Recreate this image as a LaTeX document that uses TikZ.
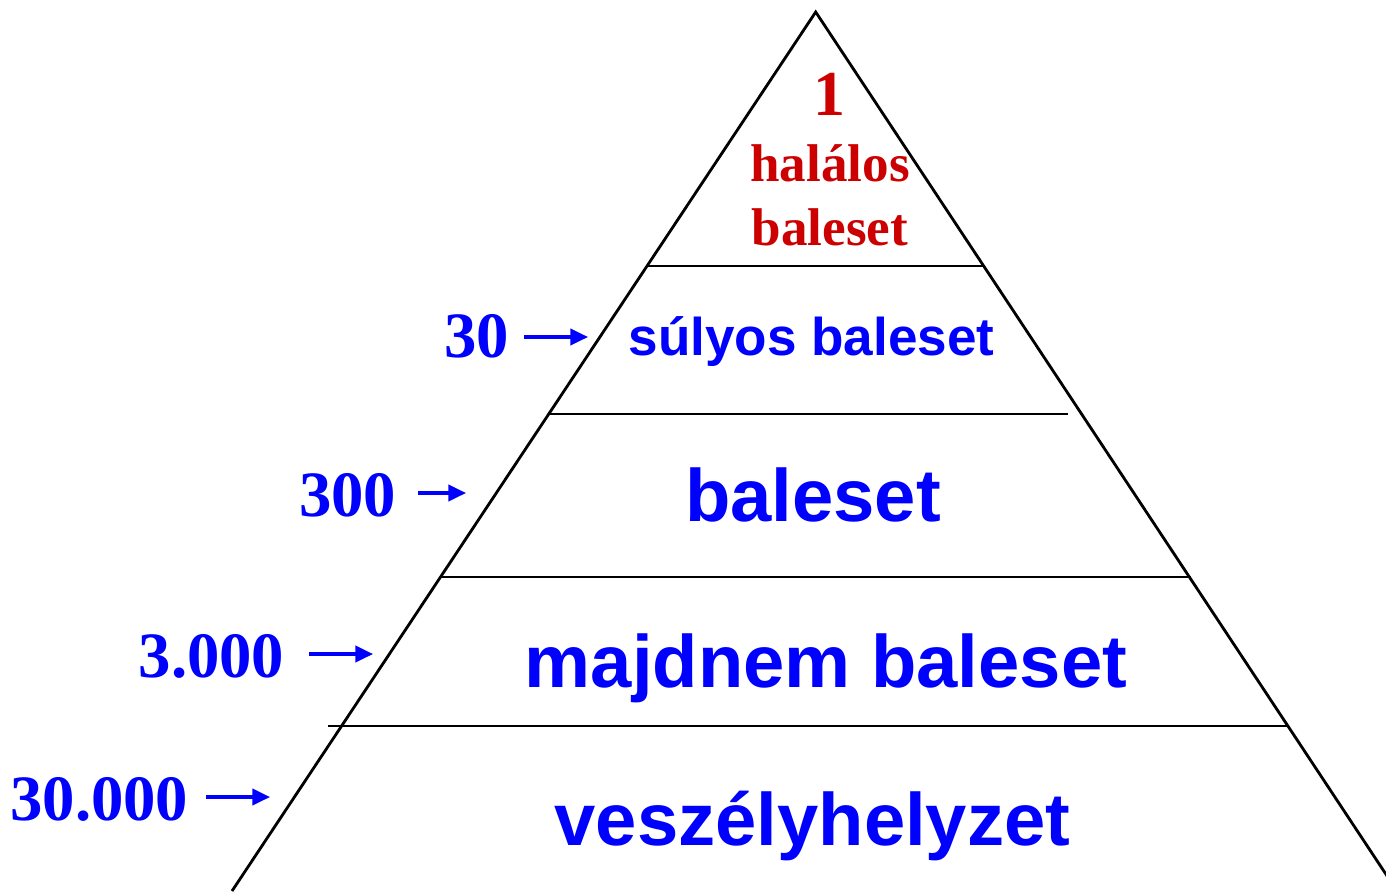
\documentclass[tikz,border=0pt]{standalone}
\usepackage{fontspec}
\setmainfont{Liberation Serif}
\newfontfamily\arialfont{Liberation Sans}
\usetikzlibrary{arrows.meta}
\definecolor{darkred}{RGB}{204,0,0}
\definecolor{pureblue}{RGB}{0,0,255}

\begin{document}
\begin{tikzpicture}[x=0.01cm,y=-0.01cm]
  \tikzstyle{Num}=[pureblue,font=\fontsize{18.4}{20}\selectfont\bfseries,inner sep=0pt,anchor=base east]
  \tikzstyle{Top}=[darkred,font=\fontsize{15.1}{17}\selectfont\bfseries,inner sep=0pt,anchor=base]
  \tikzstyle{Lev}=[pureblue,font=\arialfont\fontsize{21.1}{24}\selectfont\bfseries,inner sep=0pt,anchor=base]
  \tikzstyle{Arr}=[pureblue,line width=0.9pt,-{Triangle[length=5pt,width=4.6pt]}]
  \tikzstyle{Edge}=[black,line width=0.8pt]
  \useasboundingbox (0,0) rectangle (1386,891);
  \clip (0,0) rectangle (1386,891);

  % pyramid
  \coordinate (Apex) at (815.7,12);
  \coordinate (BL) at (232,891);
  \coordinate (BR) at (1397,891);
  \draw[Edge] (BL) -- (Apex) -- (BR);
  \coordinate (L1a) at (647,266);  \coordinate (L1b) at (985,266);
  \coordinate (L2a) at (548,414);  \coordinate (L2b) at (1068,414);
  \coordinate (L3a) at (440,577);  \coordinate (L3b) at (1191,577);
  \coordinate (L4a) at (328,726);  \coordinate (L4b) at (1288,726);
  \draw[Edge] (L1a) -- (L1b);
  \draw[Edge] (L2a) -- (L2b);
  \draw[Edge] (L3a) -- (L3b);
  \draw[Edge] (L4a) -- (L4b);

  % levels
  \node[Top,font=\fontsize{18.2}{20}\selectfont\bfseries] (T1) at (829,116) {1};
  \node[Top] (T2) at (830,182) {halálos};
  \node[Top] (T3) at (830,245) {baleset};
  \node[Lev,font=\arialfont\fontsize{15.1}{17}\selectfont\bfseries] (S1) at (811.5,355) {súlyos baleset};
  \node[Lev] (S2) at (813,521) {baleset};
  \node[Lev] (S3) at (826,687) {majdnem baleset};
  \node[Lev] (S4) at (812.5,845) {veszélyhelyzet};

  % counts
  \node[Num] (N1) at (510,357) {30};
  \node[Num] (N2) at (397,516) {300};
  \node[Num] (N3) at (285,677) {3.000};
  \node[Num] (N4) at (189,820) {30.000};
  \coordinate (A1s) at (524,337); \coordinate (A1e) at (588,337);
  \coordinate (A2s) at (418,493); \coordinate (A2e) at (466,493);
  \coordinate (A3s) at (309,654); \coordinate (A3e) at (373,654);
  \coordinate (A4s) at (206,797); \coordinate (A4e) at (270,797);
  \draw[Arr] (A1s) -- (A1e);
  \draw[Arr] (A2s) -- (A2e);
  \draw[Arr] (A3s) -- (A3e);
  \draw[Arr] (A4s) -- (A4e);
\end{tikzpicture}
\end{document}
